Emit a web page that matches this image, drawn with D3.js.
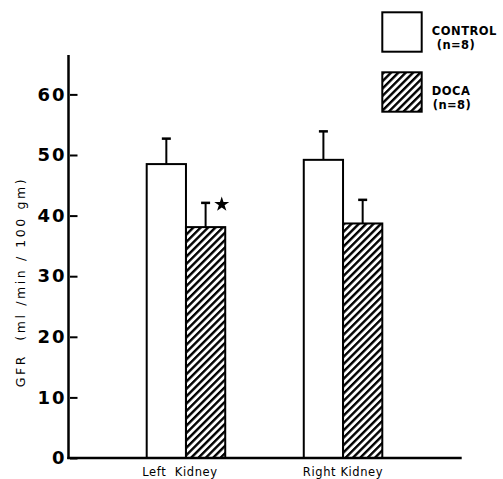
<!DOCTYPE html>
<html lang="en">
  <head>
    <meta charset="utf-8">
    <title>GFR bar chart</title>
    <style>
      body { margin: 0; background: #fff; }
      svg { display: block; }
    </style>
  </head>
  <body>

<script src="https://d3js.org/d3.v7.min.js"></script>

<script>
// values
var categories = ["Left Kidney", "Right Kidney"];
var series = ["CONTROL", "DOCA"];
var controlMean = [48.5, 49.2];
var controlSem = [4.2, 4.7];
var docaMean = [38.1, 38.7];
var docaSem = [4.0, 3.9];
var yTicks = [0, 10, 20, 30, 40, 50, 60];

var rows = [];
categories.forEach(function(c, i) {
  rows.push({cat: c, s: "CONTROL", v: controlMean[i], e: controlSem[i]});
  rows.push({cat: c, s: "DOCA", v: docaMean[i], e: docaSem[i]});
});

var W = 503, H = 479;

var svg = d3.select('body').append('svg')
  .attr('width', W)
  .attr('height', H);

// hatch for DOCA bars
var defs = svg.append('defs');
defs.append('pattern')
    .attr('id', 'hatch')
    .attr('patternUnits', 'userSpaceOnUse')
    .attr('width', 5.2)
    .attr('height', 5.2)
    .attr('patternTransform', 'rotate(45)')
  .append('rect')
    .attr('x', 0).attr('y', 0)
    .attr('width', 2.4).attr('height', 5.2)
    .attr('fill', '#000');

var x = d3.scaleBand()
  .domain(categories)
  .range([146.7, 382.3])
  .paddingInner(0.5)
  .paddingOuter(0);

var xs = d3.scaleBand()
  .domain(series)
  .range([0, x.bandwidth()]);

var y = d3.scaleLinear()
  .domain([0, 66.5])
  .range([458, 55]);

// y axis
var yAxis = svg.append('g')
  .attr('transform', 'translate(68.5,0)')
  .call(d3.axisLeft(y).tickValues(yTicks).tickSize(-9).tickPadding(2).tickFormat(d3.format('d')));
yAxis.select('.domain').remove();
yAxis.selectAll('.tick line').attr('stroke', '#000').attr('stroke-width', 2).attr('x1', 1.5);
yAxis.selectAll('.tick text')
  .attr('font-family', 'DejaVu Sans, sans-serif')
  .attr('font-weight', 'bold')
  .attr('font-size', 18)
  .attr('letter-spacing', 2)
  .attr('fill', '#000');

svg.append('line')
  .attr('x1', 68.5).attr('x2', 68.5)
  .attr('y1', y(66.5)).attr('y2', y(0) + 1)
  .attr('stroke', '#000').attr('stroke-width', 2.5);

// bars
var bar = svg.selectAll('.bar')
  .data(rows)
  .enter()
  .append('g')
    .attr('class', 'bar');

// error bars (drawn first, bar rect covers the base)
bar.append('line')
  .attr('x1', (d) => x(d.cat) + xs(d.s) + xs.bandwidth() / 2)
  .attr('x2', (d) => x(d.cat) + xs(d.s) + xs.bandwidth() / 2)
  .attr('y1', (d) => y(d.v))
  .attr('y2', (d) => y(d.v + d.e))
  .attr('stroke', '#000').attr('stroke-width', 2);

bar.append('line')
  .attr('x1', (d) => x(d.cat) + xs(d.s) + xs.bandwidth() / 2 - 4.5)
  .attr('x2', (d) => x(d.cat) + xs(d.s) + xs.bandwidth() / 2 + 4.5)
  .attr('y1', (d) => y(d.v + d.e))
  .attr('y2', (d) => y(d.v + d.e))
  .attr('stroke', '#000').attr('stroke-width', 2.5);

bar.append('rect')
  .attr('x', (d) => x(d.cat) + xs(d.s))
  .attr('y', (d) => y(d.v))
  .attr('width', xs.bandwidth())
  .attr('height', (d) => y(0) - y(d.v))
  .attr('fill', (d) => d.s === 'DOCA' ? 'url(#hatch)' : '#fff')
  .attr('stroke', '#000')
  .attr('stroke-width', 2);

// significance star on left DOCA
var starRow = rows[1];
svg.append('path')
  .attr('d', d3.symbol().type(d3.symbolStar).size(70))
  .attr('transform', 'translate(' + (x(starRow.cat) + xs(starRow.s) + xs.bandwidth() - 3.5) + ',' + (y(starRow.v + starRow.e) + 1.5) + ')')
  .attr('fill', '#000');

// x axis line
svg.append('line')
  .attr('x1', 67.3).attr('x2', 461.7)
  .attr('y1', y(0)).attr('y2', y(0))
  .attr('stroke', '#000').attr('stroke-width', 2.5);

// category labels
svg.selectAll('.cat')
  .data(categories)
  .enter()
  .append('text')
    .attr('class', 'cat')
    .attr('x', (d) => x(d) + x.bandwidth() / 2 - (d === 'Left Kidney' ? 6 : 0))
    .attr('y', 476)
    .attr('text-anchor', 'middle')
    .attr('font-family', 'DejaVu Sans, sans-serif')
    .attr('font-size', 11.5)
    .attr('letter-spacing', 0.6)
    .style('white-space', 'pre')
    .text((d) => d === 'Left Kidney' ? 'Left  Kidney' : d);

// y label
svg.append('text')
  .attr('transform', 'translate(25,282) rotate(-90)')
  .attr('text-anchor', 'middle')
  .attr('font-family', 'DejaVu Sans, sans-serif')
  .attr('font-size', 12.5)
  .attr('letter-spacing', 2.6)
  .style('white-space', 'pre')
  .text('GFR  (ml /min / 100 gm)');

// legend
var legend = svg.append('g');
var legendItems = [
  {s: 'CONTROL', y: 12.3, fill: '#fff'},
  {s: 'DOCA', y: 72.3, fill: 'url(#hatch)'}
];
var li = legend.selectAll('g')
  .data(legendItems)
  .enter()
  .append('g')
    .attr('transform', (d) => 'translate(382.3,' + d.y + ')');

li.append('rect')
  .attr('width', 39.4)
  .attr('height', 39.4)
  .attr('fill', (d) => d.fill)
  .attr('stroke', '#000')
  .attr('stroke-width', 2);

li.append('text')
  .attr('x', 49.5)
  .attr('y', 22.5)
  .attr('font-family', 'DejaVu Sans, sans-serif')
  .attr('font-weight', 'bold')
  .attr('font-size', 11.5)
  .attr('letter-spacing', 0.5)
  .text((d) => d.s);

li.append('text')
  .attr('x', (d) => d.s === 'CONTROL' ? 54.5 : 50.5)
  .attr('y', 37)
  .attr('font-family', 'DejaVu Sans, sans-serif')
  .attr('font-weight', 'bold')
  .attr('font-size', 11.5)
  .attr('letter-spacing', 0.4)
  .text('(n=8)');

</script>

  </body>
</html>
